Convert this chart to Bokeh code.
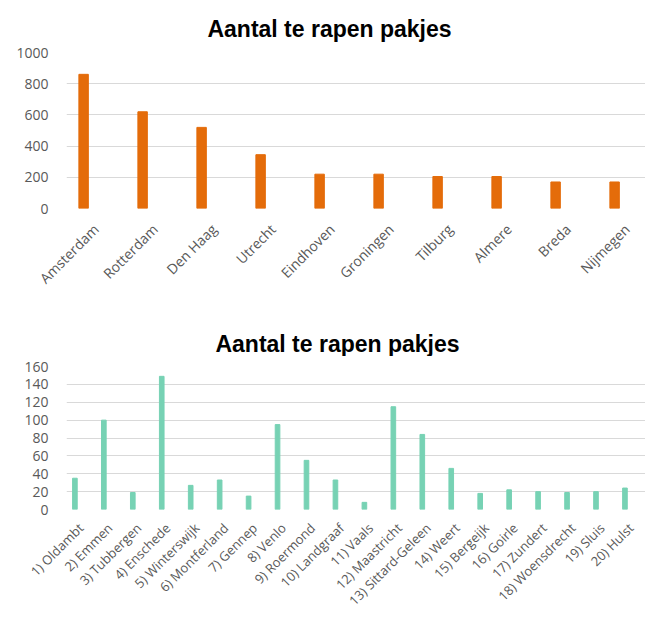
from bokeh.plotting import figure
from bokeh.models import FactorRange, FixedTicker
from bokeh.core.properties import value
from bokeh.transform import dodge
from bokeh.layouts import column
from bokeh.embed import file_html
from bokeh.resources import INLINE
from math import pi

# ---- data ----
cities = ["Amsterdam", "Rotterdam", "Den Haag", "Utrecht", "Eindhoven",
          "Groningen", "Tilburg", "Almere", "Breda", "Nijmegen"]
city_values = [860, 620, 520, 345, 220, 220, 205, 205, 170, 170]

municipalities = ["1) Oldambt", "2) Emmen", "3) Tubbergen", "4) Enschede",
                  "5) Winterswijk", "6) Montferland", "7) Gennep", "8) Venlo",
                  "9) Roermond", "10) Landgraaf", "11) Vaals", "12) Maastricht",
                  "13) Sittard-Geleen", "14) Weert", "15) Bergeijk", "16) Goirle",
                  "17) Zundert", "18) Woensdrecht", "19) Sluis", "20) Hulst"]
municipality_values = [35, 100, 19, 149, 27, 33, 15, 95, 55, 33, 8, 115,
                       84, 46, 18, 22, 20, 19, 20, 24]

title_text = "Aantal te rapen pakjes"
top_ticks = [0, 200, 400, 600, 800, 1000]
bottom_ticks = [0, 20, 40, 60, 80, 100, 120, 140, 160]

LABEL_FONT = "Open Sans"
LABEL_COLOR = "#595959"
GRID_COLOR = "#d9d9d9"
FIG_W = 645


def make_title(height, left, frame_w, cx, baseline):
    t = figure(width=FIG_W, height=height, x_range=(0, frame_w),
               y_range=(0, height), output_backend="svg",
               toolbar_location=None, x_axis_location=None,
               y_axis_location=None, min_border_left=left,
               min_border_right=0, min_border_top=0, min_border_bottom=0)
    t.outline_line_color = None
    t.grid.visible = False
    t.text(x=[cx], y=[height - baseline], text=[title_text],
           text_align="center", text_baseline="alphabetic",
           text_font=value("Liberation Sans"), text_font_size="23px",
           text_font_style="bold", text_color="black")
    return t


def make_chart(cats, vals, ticks, ymax, color, frame_w, frame_h, left,
               bottom, xfont, xstandoff):
    p = figure(x_range=FactorRange(factors=cats, range_padding=0),
               y_range=(0, ymax), frame_width=frame_w, frame_height=frame_h,
               output_backend="svg", toolbar_location=None,
               min_border_left=left, min_border_right=0,
               min_border_top=10, min_border_bottom=bottom)
    p.vbar(x=dodge("x", -0.21, range=p.x_range), top="top", width=0.16,
           source=dict(x=cats, top=vals), fill_color=color, line_color=color)
    p.outline_line_color = None
    p.xgrid.grid_line_color = None
    p.ygrid.grid_line_color = GRID_COLOR
    p.ygrid.grid_line_width = 1
    p.yaxis.ticker = FixedTicker(ticks=ticks)
    for ax in (p.xaxis, p.yaxis):
        ax.axis_line_color = None
        ax.major_tick_line_color = None
        ax.minor_tick_line_color = None
        ax.major_label_text_font = LABEL_FONT
        ax.major_label_text_color = LABEL_COLOR
    p.yaxis.major_label_text_font_size = "14px"
    p.xaxis.major_label_text_font_size = xfont
    p.yaxis.major_label_standoff = 12
    p.xaxis.major_label_orientation = pi / 4
    p.xaxis.major_label_standoff = xstandoff
    return p


t1 = make_title(42, 55, 590, 268, 28)
p1 = make_chart(cities, city_values, top_ticks, 1000, "#E46C0A",
                590, 156, 55, 102, "14px", 12)
t2 = make_title(46, 66, 579, 271, 33)
p2 = make_chart(municipalities, municipality_values, bottom_ticks, 160,
                "#77D2B4", 579, 143, 66, 104, "13px", 10)

layout = column(t1, p1, t2, p2, spacing=0)
open("out.html", "w").write(file_html(layout, INLINE))
